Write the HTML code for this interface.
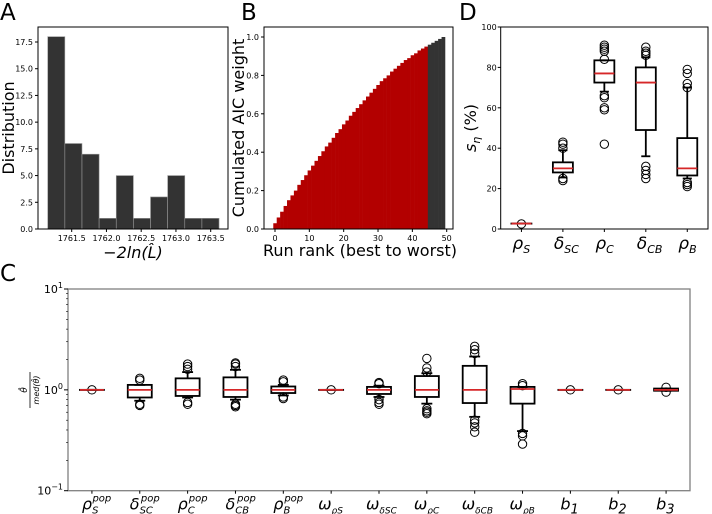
<!DOCTYPE html>
<html><head><meta charset="utf-8"><style>
body{margin:0;background:#fff;}
svg{display:block;font-family:"DejaVu Sans","Liberation Sans",sans-serif;}
.tk{font-size:8px;fill:#000;}
</style></head><body>
<svg id="fig" width="712" height="514" viewBox="0 0 712 514" xmlns="http://www.w3.org/2000/svg">
<text x="0" y="20" font-size="23">A</text>
<text x="241" y="20" font-size="23">B</text>
<text x="459" y="20" font-size="23">D</text>
<text x="0" y="281" font-size="23">C</text>
<g id="gA"></g>
<g id="gB"></g>
<g id="gD"></g>
<g id="gC"></g>
</svg>
<script>
// Panel A data
const histCounts=[18,8,7,1,5,1,3,5,1,1];
const histStart=1761.155, histBin=0.2465;
const aXTicks=[1761.5,1762.0,1762.5,1763.0,1763.5];
const aYTicks=[0,2.5,5,7.5,10,12.5,15,17.5];
// Panel B data
const aicCum=[0.03,0.06,0.09,0.12,0.15,0.175,0.2,0.23,0.255,0.28,0.305,0.33,0.355,0.38,0.405,0.43,0.45,0.475,0.5,0.52,0.545,0.565,0.59,0.61,0.63,0.65,0.67,0.69,0.71,0.73,0.75,0.77,0.785,0.8,0.82,0.835,0.85,0.865,0.88,0.89,0.905,0.915,0.93,0.94,0.95,0.96,0.97,0.98,0.99,1.0];
const aicRedCount=45;
const bXTicks=[0,10,20,30,40,50];
const bYTicks=[0,0.2,0.4,0.6,0.8,1.0];
// Panel D data
const dLabels=[["ρ","S"],["δ","SC"],["ρ","C"],["δ","CB"],["ρ","B"]];
const dQ1=[2.7,28,72.5,49,26.5];
const dMed=[2.7,30,77,72.5,30];
const dQ3=[2.7,33,83.5,80,45];
const dWlo=[2.7,25.5,68,36,25];
const dWhi=[2.7,39,83.5,85,70];
const dOut=[[2.5],[24,25,40,42,43],[84,88,89,90,91,66,65,60,59,42],[25,27,29,31,86,87,88,90],[21,22,23,70,72,77,79]];
const dYTicks=[0,20,40,60,80,100];
// Panel C data
const cLabels=[["ρ","S","pop"],["δ","SC","pop"],["ρ","C","pop"],["δ","CB","pop"],["ρ","B","pop"],["ω","ρS",""],["ω","δSC",""],["ω","ρC",""],["ω","δCB",""],["ω","ρB",""],["b","1",""],["b","2",""],["b","3",""]];
const cQ1=[1,0.84,0.87,0.85,0.93,1,0.91,0.85,0.74,0.73,1,1,0.98];
const cMed=[1,1,1,1,1,1,1,1,1,1.02,1,1,1];
const cQ3=[1,1.12,1.3,1.33,1.08,1,1.07,1.37,1.73,1.07,1,1,1.03];
const cWlo=[1,0.78,0.84,0.8,0.88,1,0.85,0.73,0.54,0.39,1,1,0.98];
const cWhi=[1,1.12,1.5,1.58,1.12,1,1.1,1.46,2.14,1.07,1,1,1.03];
const cOut=[[1],[1.25,1.3,0.72,0.7],[1.6,1.7,1.8,0.72,0.75],[1.7,1.8,1.85,0.72,0.68,0.7],[1.2,1.25,0.85,0.82],[1],[1.15,1.18,0.8,0.75,0.72],[1.5,1.65,2.05,0.65,0.62,0.6,0.58],[2.3,2.5,2.7,0.5,0.47,0.43,0.38],[1.1,1.15,0.37,0.35,0.29],[1],[1],[1.06,0.95]];

const NS="http://www.w3.org/2000/svg";
function mk(parent,tag,attrs,text){const e=document.createElementNS(NS,tag);for(const k in attrs)e.setAttribute(k,attrs[k]);if(text!==undefined)e.textContent=text;parent.appendChild(e);return e;}
function lin(d0,d1,r0,r1){return v=>r0+(v-d0)/(d1-d0)*(r1-r0);}

// ---------- Panel A ----------
(function(){
const g=document.getElementById('gA');
const L=38,R=228,T=27,B=229;
const x=lin(1761.5,1763.5,71.7,210.7), y=lin(0,17.5,B,42);
histCounts.forEach((c,i)=>{
 const x0=x(histStart+i*histBin), x1=x(histStart+(i+1)*histBin);
 const r=mk(g,'rect',{x:x0,y:y(c),width:x1-x0,height:B-y(c),fill:'#333',stroke:'#999','stroke-width':0.6});
 
 
});
mk(g,'rect',{x:L,y:T,width:R-L,height:B-T,fill:'none',stroke:'#000','stroke-width':1});
aXTicks.forEach(t=>{mk(g,'line',{x1:x(t),x2:x(t),y1:B,y2:B+3,stroke:'#000'});
 const tx=mk(g,'text',{x:x(t),y:B+12,'text-anchor':'middle',class:'tk'},t.toFixed(1));
 
 });
aYTicks.forEach(t=>{mk(g,'line',{x1:L-3,x2:L,y1:y(t),y2:y(t),stroke:'#000'});
 const tx=mk(g,'text',{x:L-5,y:y(t)+3,'text-anchor':'end',class:'tk'},t.toFixed(1));
 
 });
const yl=mk(g,'text',{x:0,y:0,transform:'translate(14,128) rotate(-90)','text-anchor':'middle','font-size':16},'Distribution');

const xl=mk(g,'text',{x:133,y:258,'text-anchor':'middle','font-size':16,'font-style':'italic'},'−2ln(L̂)');

})();

// ---------- Panel B ----------
(function(){
const g=document.getElementById('gB');
const L=264,R=453,T=27,B=229;
const x=lin(0,50,275,446.7), y=lin(0,1,B,37);
aicCum.forEach((v,i)=>{
 const x0=x(i-0.5),x1=x(i+0.5);
 const r=mk(g,'rect',{x:x0,y:y(v),width:x1-x0+0.3,height:B-y(v),fill:i<aicRedCount?'#b30000':'#333'});
 
 
});
mk(g,'rect',{x:L,y:T,width:R-L,height:B-T,fill:'none',stroke:'#000','stroke-width':1});
bXTicks.forEach(t=>{mk(g,'line',{x1:x(t),x2:x(t),y1:B,y2:B+3,stroke:'#000'});
 const tx=mk(g,'text',{x:x(t),y:B+12,'text-anchor':'middle',class:'tk'},t);
 });
bYTicks.forEach(t=>{mk(g,'line',{x1:L-3,x2:L,y1:y(t),y2:y(t),stroke:'#000'});
 const tx=mk(g,'text',{x:L-5,y:y(t)+3,'text-anchor':'end',class:'tk'},t.toFixed(1));
 });
const yl=mk(g,'text',{x:0,y:0,transform:'translate(244,128) rotate(-90)','text-anchor':'middle','font-size':16},'Cumulated AIC weight');

const xl=mk(g,'text',{x:360,y:256,'text-anchor':'middle','font-size':16},'Run rank (best to worst)');

})();

function drawBox(g,cx,w,y,q1,med,q3,wlo,whi,outs,lw){
 const cap=w/2.2;
 mk(g,'line',{x1:cx,x2:cx,y1:y(q1),y2:y(wlo),stroke:'#000','stroke-width':lw});
 mk(g,'line',{x1:cx,x2:cx,y1:y(q3),y2:y(whi),stroke:'#000','stroke-width':lw});
 mk(g,'line',{x1:cx-cap/2,x2:cx+cap/2,y1:y(wlo),y2:y(wlo),stroke:'#000','stroke-width':lw});
 mk(g,'line',{x1:cx-cap/2,x2:cx+cap/2,y1:y(whi),y2:y(whi),stroke:'#000','stroke-width':lw});
 mk(g,'rect',{x:cx-w/2,y:y(q3),width:w,height:Math.max(0.1,y(q1)-y(q3)),fill:'none',stroke:'#000','stroke-width':lw});
 outs.forEach(o=>mk(g,'circle',{cx:cx,cy:y(o),r:4.2,fill:'none',stroke:'#000','stroke-width':1}));
 mk(g,'line',{x1:cx-w/2,x2:cx+w/2,y1:y(med),y2:y(med),stroke:'#d62728','stroke-width':lw});
}

// ---------- Panel D ----------
(function(){
const g=document.getElementById('gD');
const L=500.7,R=708,T=27,B=229;
const x=lin(0.5,5.5,L,R), y=lin(0,100,B,27);
dMed.forEach((m,i)=>{
 const bg=mk(g,'g',{});
 
 
 drawBox(bg,x(i+1),20,y,dQ1[i],m,dQ3[i],dWlo[i],dWhi[i],dOut[i],1.8);
});
mk(g,'rect',{x:L,y:T,width:R-L,height:B-T,fill:'none',stroke:'#000','stroke-width':1});
dYTicks.forEach(t=>{mk(g,'line',{x1:L-3,x2:L,y1:y(t),y2:y(t),stroke:'#000'});
 const tx=mk(g,'text',{x:L-4,y:y(t)+3,'text-anchor':'end',class:'tk'},t);
 });
dLabels.forEach((l,i)=>{mk(g,'line',{x1:x(i+1),x2:x(i+1),y1:B,y2:B+3,stroke:'#000'});
 const tx=mk(g,'text',{x:x(i+1)-9,y:B+20,'font-size':17,'font-style':'italic'});
 
 mk(tx,'tspan',{},l[0]);mk(tx,'tspan',{dy:4,'font-size':11},l[1]);});
const yl=mk(g,'text',{x:0,y:0,transform:'translate(476,128) rotate(-90)','text-anchor':'middle','font-size':16,'font-style':'italic'});

mk(yl,'tspan',{},'s');mk(yl,'tspan',{dy:4,'font-size':11},'η');mk(yl,'tspan',{dy:-4,'font-style':'normal'},' (%)');
})();

// ---------- Panel C ----------
(function(){
const g=document.getElementById('gC');
const L=68,R=690,T=289,B=490.7;
const x=lin(0.5,13.5,L,R);
const ly=lin(-1,1,B,T);
const y=v=>ly(Math.log10(v));
cMed.forEach((m,i)=>{
 const bg=mk(g,'g',{});
 
 
 drawBox(bg,x(i+1),24,y,cQ1[i],m,cQ3[i],cWlo[i],cWhi[i],cOut[i],1.8);
});
mk(g,'rect',{x:L,y:T,width:R-L,height:B-T,fill:'none',stroke:'#808080','stroke-width':1.3});
[-1,0,1].forEach(e=>{mk(g,'line',{x1:L-4,x2:L,y1:ly(e),y2:ly(e),stroke:'#000'});
 const tx=mk(g,'text',{x:L-5,y:ly(e)+4,'text-anchor':'end','font-size':11});
 
 mk(tx,'tspan',{},'10');mk(tx,'tspan',{dy:-5,'font-size':8},e<0?'−1':e);});
for(let e=-1;e<1;e++)for(let k=2;k<10;k++){const yy=ly(e+Math.log10(k));mk(g,'line',{x1:L-2,x2:L,y1:yy,y2:yy,stroke:'#000','stroke-width':0.6});}
cLabels.forEach((l,i)=>{mk(g,'line',{x1:x(i+1),x2:x(i+1),y1:B,y2:B+3,stroke:'#000'});
 const tx=mk(g,'text',{x:x(i+1)-(l[0]==='ω'?13:10),y:B+19,'font-size':16,'font-style':'italic'});
 
 mk(tx,'tspan',{},l[0]);
 if(l[2]){mk(tx,'tspan',{dy:4,'font-size':10},l[1]);mk(tx,'tspan',{dx:-(l[1].length*6),dy:-12,'font-size':10},l[2]);}
 else mk(tx,'tspan',{dy:4,'font-size':l[0]==='ω'?9:13},l[1]);});
const yl=mk(g,'g',{transform:'translate(30,390) rotate(-90)'});

mk(yl,'text',{x:0,y:-3,'text-anchor':'middle','font-size':9,'font-style':'italic'},'θ̂');
mk(yl,'line',{x1:-18,x2:18,y1:0,y2:0,stroke:'#000','stroke-width':0.8});
mk(yl,'text',{x:0,y:9,'text-anchor':'middle','font-size':8,'font-style':'italic'},'med(θ̂)');
})();
</script>
</body></html>
